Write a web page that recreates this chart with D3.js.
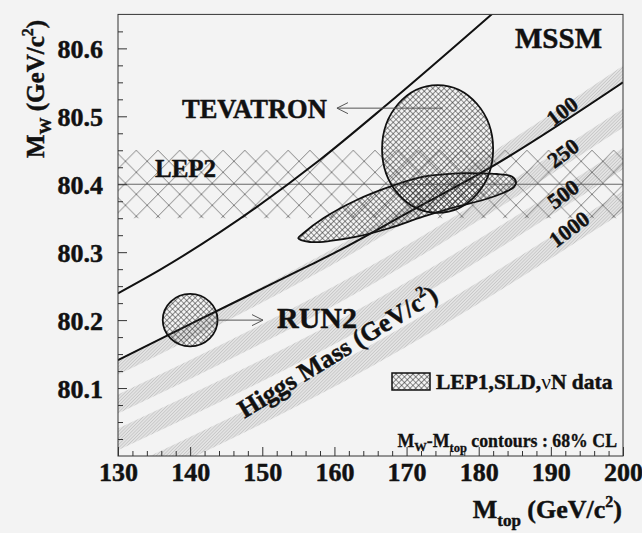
<!DOCTYPE html>
<html>
<head>
<meta charset="utf-8">
<script src="https://cdn.jsdelivr.net/npm/d3@7"></script>
<style>
  html, body { margin: 0; padding: 0; background: #f3f3f3; }
  svg { display: block; }
  text { font-family: "Liberation Serif", "Times New Roman", serif; font-weight: bold; fill: #111;
         stroke: #111; stroke-width: 0.45px; }
</style>
</head>
<body>
<svg id="chart" width="642" height="533"></svg>
<script>
// ---- axis domains and ticks ----
const mtopDomain = [130, 200];
const mwDomain = [80.0, 80.65];
const xMajorTicks = [130, 140, 150, 160, 170, 180, 190, 200];
const xMinorTicks = [132, 134, 136, 138, 142, 144, 146, 148, 152, 154, 156, 158, 162, 164, 166, 168,
                     172, 174, 176, 178, 182, 184, 186, 188, 192, 194, 196, 198];
const yMajorTicks = [80.1, 80.2, 80.3, 80.4, 80.5, 80.6];
const yMinorTicks = [80.025, 80.05, 80.075, 80.125, 80.15, 80.175, 80.225, 80.25, 80.275,
                     80.325, 80.35, 80.375, 80.425, 80.45, 80.475, 80.525, 80.55, 80.575, 80.625];

// ---- SM Higgs-mass bands (centre of band in M_W at given M_top) ----
const bandMtop = [130, 165, 200];
const bandLabels = ["100", "250", "500", "1000"];
const band100 = [80.131, 80.325, 80.563];
const band250 = [80.0765, 80.2655, 80.4975];
const band500 = [80.0243, 80.2096, 80.4379];
const band1000 = [79.962, 80.147, 80.3746];
const bandWidths = [0.023, 0.028, 0.032, 0.032];

// ---- MSSM allowed-region boundaries ----
const mssmUpperMtop = [130, 135.8, 158.0, 167.25, 182.0];
const mssmUpperMw   = [80.2395, 80.274, 80.436, 80.517, 80.652];
const mssmLowerMtop = [130, 140, 156.6, 160.75, 170, 182, 200];
const mssmLowerMw   = [80.141, 80.194, 80.281, 80.303, 80.357, 80.427, 80.55];

// ---- LEP2 direct M_W band ----
const lep2Center = 80.40;
const lep2HalfWidth = 0.05;

// ---- 68% CL contours ----
const lep1Mtop = [154.99, 156.6, 159.4, 163.09, 167.70, 172.28, 176.95, 180.60, 183.37, 184.9, 185.17,
                  184.6, 182.5, 179.72, 176.95, 172.32, 167.70, 163.09, 158.46, 155.69];
const lep1Mw   = [80.3204, 80.315, 80.3165, 80.3228, 80.3356, 80.3522, 80.3669, 80.3768, 80.3871, 80.396, 80.4033,
                  80.4114, 80.4151, 80.4161, 80.4161, 80.4111, 80.3964, 80.3768, 80.3499, 80.3278];
const tevatron = { mtop: 174.3, mw: 80.452, dMtop: 7.7, dMw: 0.094 };
const run2 = { mtop: 140.0, mw: 80.2, dMtop: 3.8, dMw: 0.0386 };

// ---- layout ----
const svg = d3.select("#chart");
const x = d3.scaleLinear().domain(mtopDomain).range([118, 623]);
const y = d3.scaleLinear().domain(mwDomain).range([456, 14.4]);
const [x0, x1] = x.range();
const [yb, yt] = y.range();

const defs = svg.append("defs");
defs.append("clipPath").attr("id", "plotClip")
  .append("rect").attr("x", x0).attr("y", yt).attr("width", x1 - x0).attr("height", yb - yt);

// fine hatch for the Higgs bands
const hs = 2.3;
const hatch = defs.append("pattern").attr("id", "bandHatch")
  .attr("patternUnits", "userSpaceOnUse").attr("width", hs).attr("height", hs)
  .attr("patternTransform", "rotate(45)");
hatch.append("rect").attr("width", hs).attr("height", hs).attr("fill", "#e3e3e3");
hatch.append("line").attr("x1", 0).attr("y1", 0).attr("x2", 0).attr("y2", hs)
  .attr("stroke", "#b2b2b2").attr("stroke-width", 0.9);

// coarse diamond lattice for LEP2
const dw = 21.7, dh = 22;
const lep2Pat = defs.append("pattern").attr("id", "lep2Hatch")
  .attr("patternUnits", "userSpaceOnUse").attr("width", dw).attr("height", dh)
  .attr("x", 136.3).attr("y", y(lep2Center + lep2HalfWidth));
lep2Pat.append("path").attr("d", `M0,0L${dw},${dh}M${dw},0L0,${dh}`)
  .attr("stroke", "#666").attr("stroke-width", 0.8).attr("fill", "none");

// fine cross-hatch for the 68% CL contours
const cs = 4.0;
const cross = defs.append("pattern").attr("id", "crossHatch")
  .attr("patternUnits", "userSpaceOnUse").attr("width", cs).attr("height", cs)
  .attr("patternTransform", "rotate(45)");
cross.append("path").attr("d", `M0,0L0,${cs}M0,0L${cs},0`)
  .attr("stroke", "#2a2a2a").attr("stroke-width", 1.1).attr("fill", "none");

const plot = svg.append("g").attr("clip-path", "url(#plotClip)");

// Higgs bands
const bandCentres = [band100, band250, band500, band1000];
bandCentres.forEach((centres, i) => {
  const pts = bandMtop.map((m, j) => ({ m, c: centres[j] }));
  const area = d3.area()
    .x(d => x(d.m))
    .y0(d => y(d.c - bandWidths[i] / 2))
    .y1(d => y(d.c + bandWidths[i] / 2))
    .curve(d3.curveNatural);
  plot.append("path").attr("d", area(pts)).attr("fill", "url(#bandHatch)");
});

// LEP2 band and its central value
plot.append("rect")
  .attr("x", x0).attr("width", x1 - x0)
  .attr("y", y(lep2Center + lep2HalfWidth))
  .attr("height", y(lep2Center - lep2HalfWidth) - y(lep2Center + lep2HalfWidth))
  .attr("fill", "url(#lep2Hatch)");
plot.append("line")
  .attr("x1", x0).attr("x2", x1).attr("y1", y(lep2Center)).attr("y2", y(lep2Center))
  .attr("stroke", "#666").attr("stroke-width", 1);

// MSSM boundary curves
const curve = d3.line().x(d => x(d[0])).y(d => y(d[1])).curve(d3.curveMonotoneX);
plot.append("path").attr("d", curve(d3.zip(mssmUpperMtop, mssmUpperMw)))
  .attr("fill", "none").attr("stroke", "#111").attr("stroke-width", 2);
plot.append("path").attr("d", curve(d3.zip(mssmLowerMtop, mssmLowerMw)))
  .attr("fill", "none").attr("stroke", "#111").attr("stroke-width", 2);

// contours
const closed = d3.line().x(d => x(d[0])).y(d => y(d[1])).curve(d3.curveCatmullRomClosed.alpha(0.5));
plot.append("path").attr("d", closed(d3.zip(lep1Mtop, lep1Mw)))
  .attr("fill", "url(#crossHatch)").attr("stroke", "#111").attr("stroke-width", 1.8);

[tevatron, run2].forEach(c => {
  plot.append("ellipse")
    .attr("cx", x(c.mtop)).attr("cy", y(c.mw))
    .attr("rx", x(c.mtop + c.dMtop) - x(c.mtop))
    .attr("ry", y(c.mw - c.dMw) - y(c.mw))
    .attr("fill", "url(#crossHatch)").attr("stroke", "#111").attr("stroke-width", 1.8);
});

// arrows pointing to the labels
function arrow(m0, m1, mw) {
  const ya = y(mw), xa = x(m0), xb = x(m1);
  const dir = Math.sign(xb - xa);
  svg.append("path")
    .attr("d", `M${xa},${ya}L${xb},${ya}M${xb - dir * 11},${ya - 5.5}L${xb},${ya}L${xb - dir * 11},${ya + 5.5}`)
    .attr("fill", "none").attr("stroke", "#555").attr("stroke-width", 1);
}
arrow(175.0, 160.35, 80.512);
arrow(143.8, 150.1, 80.2);

// frame
svg.append("rect").attr("x", x0).attr("y", yt).attr("width", x1 - x0).attr("height", yb - yt)
  .attr("fill", "none").attr("stroke", "#333").attr("stroke-width", 1);

// axes with inward ticks
const tickFont = g => g.selectAll("text")
  .style("font-family", "'Liberation Serif', 'Times New Roman', serif")
  .style("font-weight", "bold").style("font-size", "26px").attr("fill", "#111");

const xAxis = svg.append("g").attr("transform", `translate(0,${yb})`)
  .call(d3.axisBottom(x).tickValues(xMajorTicks).tickSize(-9).tickFormat(d3.format("d")));
xAxis.select(".domain").remove();
xAxis.selectAll(".tick line").attr("stroke", "#333");
xAxis.call(tickFont);
xAxis.selectAll(".tick text").attr("y", 24.5).attr("dy", 0);

const xMinor = svg.append("g").attr("transform", `translate(0,${yb})`)
  .call(d3.axisBottom(x).tickValues(xMinorTicks).tickSize(-5).tickFormat(""));
xMinor.select(".domain").remove();
xMinor.selectAll(".tick line").attr("stroke", "#333");

const yAxis = svg.append("g").attr("transform", `translate(${x0},0)`)
  .call(d3.axisLeft(y).tickValues(yMajorTicks).tickSize(-9).tickFormat(d3.format(".1f")));
yAxis.select(".domain").remove();
yAxis.selectAll(".tick line").attr("stroke", "#333");
yAxis.call(tickFont);
yAxis.selectAll(".tick text").attr("x", -15).attr("dy", "0.35em");

const yMinor = svg.append("g").attr("transform", `translate(${x0},0)`)
  .call(d3.axisLeft(y).tickValues(yMinorTicks).tickSize(-5).tickFormat(""));
yMinor.select(".domain").remove();
yMinor.selectAll(".tick line").attr("stroke", "#333");

// axis titles
const xt = svg.append("text").attr("x", 622).attr("y", 518).attr("text-anchor", "end").style("font-size", "26px");
xt.append("tspan").text("M");
xt.append("tspan").attr("dy", 8).style("font-size", "17px").text("top");
xt.append("tspan").attr("dy", -8).text(" (GeV/c");
xt.append("tspan").attr("dy", -11).style("font-size", "16px").text("2");
xt.append("tspan").attr("dy", 11).text(")");

const yTitle = svg.append("text").attr("transform", "translate(44,89) rotate(-90)")
  .attr("text-anchor", "middle").style("font-size", "25px");
yTitle.append("tspan").text("M");
yTitle.append("tspan").attr("dy", 7).style("font-size", "17px").text("W");
yTitle.append("tspan").attr("dy", -7).text(" (GeV/c");
yTitle.append("tspan").attr("dy", -11).style("font-size", "16px").text("2");
yTitle.append("tspan").attr("dy", 11).text(")");

// annotations
svg.append("text").attr("x", 515).attr("y", 48).style("font-size", "29px").text("MSSM");
svg.append("text").attr("x", 182).attr("y", 118).style("font-size", "26.5px").text("TEVATRON");
svg.append("text").attr("x", 155).attr("y", 177).style("font-size", "25px").text("LEP2");
svg.append("text").attr("x", 277).attr("y", 328).style("font-size", "30px").text("RUN2");

// Higgs mass labels along the bands
const bandLabelPos = [[562, 111], [563, 153], [563, 194], [569, 229]];
bandLabels.forEach((t, i) => {
  svg.append("text")
    .attr("transform", `translate(${bandLabelPos[i][0]},${bandLabelPos[i][1]}) rotate(-37)`)
    .attr("text-anchor", "middle").attr("dy", "0.35em")
    .style("font-size", "22px").text(t);
});

const higgs = svg.append("text").attr("transform", "translate(342,359) rotate(-31.5)")
  .attr("text-anchor", "middle").style("font-size", "26px");
higgs.append("tspan").text("Higgs Mass (GeV/c");
higgs.append("tspan").attr("dy", -11).style("font-size", "16px").text("2");
higgs.append("tspan").attr("dy", 11).text(")");

// legend
svg.append("rect").attr("x", 392).attr("y", 373).attr("width", 38).attr("height", 17)
  .attr("fill", "url(#crossHatch)").attr("stroke", "#111").attr("stroke-width", 1.5);
const leg = svg.append("text").attr("x", 436).attr("y", 389).style("font-size", "21.5px");
leg.append("tspan").text("LEP1,SLD,");
leg.append("tspan").style("font-weight", "normal").style("stroke-width", "0px").text("ν");
leg.append("tspan").text("N data");

// confidence-level note
const note = svg.append("text").attr("x", 617).attr("y", 446.5).attr("text-anchor", "end")
  .style("font-size", "17.8px").style("stroke-width", "0.3px");
note.append("tspan").text("M");
note.append("tspan").attr("dy", 4).style("font-size", "12.5px").text("W");
note.append("tspan").attr("dy", -4).text("-M");
note.append("tspan").attr("dy", 5).style("font-size", "12.5px").text("top");
note.append("tspan").attr("dy", -5).text(" contours : 68% CL");
</script>
</body>
</html>
